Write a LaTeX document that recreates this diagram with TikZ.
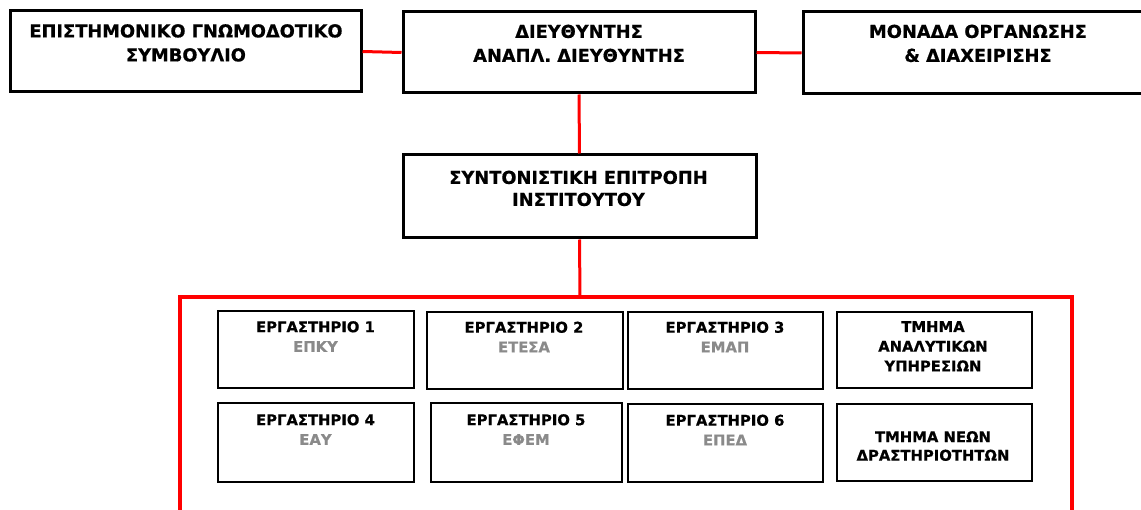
\documentclass[tikz,border=0pt]{standalone}
\usepackage{fontspec}
\setmainfont{DejaVu Sans}[BoldFeatures={FakeBold=0.6}]
\definecolor{labgrey}{RGB}{138,138,138}
\definecolor{linkred}{RGB}{255,0,0}
\begin{document}
\begin{tikzpicture}[x=1pt,y=-1pt,
  topbox/.style={draw=black,line width=3pt,inner sep=0pt,fill=white},
  labbox/.style={draw=black,line width=1.8pt,inner sep=0pt,fill=white,minimum width=195pt},
  toptext/.style={anchor=north,inner sep=0pt,align=center,font=\fontsize{17.8}{24}\selectfont\bfseries},
  labtext/.style={anchor=north,inner sep=0pt,align=center,font=\fontsize{14.8}{19.7}\selectfont\bfseries},
  link/.style={draw=linkred,line width=3pt},
  frame/.style={draw=linkred,line width=4pt}]
\useasboundingbox (0,0) rectangle (1141,510);
\clip (0,0) rectangle (1141,510);
\fill[white] (0,0) rectangle (1141,510);

% top row
\node[topbox,minimum width=351pt,minimum height=81pt] (A) at (185.5,51.5) {};
\node[topbox,minimum width=352pt,minimum height=81pt] (B) at (579,52.5) {};
\node[topbox,minimum width=350pt,minimum height=82pt] (C) at (978,53) {};
\node[topbox,minimum width=353pt,minimum height=83pt] (D) at (579.5,196.5) {};

\node[toptext] (Atext) at (186,24) {ΕΠΙΣΤΗΜΟΝΙΚΟ ΓΝΩΜΟΔΟΤΙΚΟ\\ΣΥΜΒΟΥΛΙΟ};
\node[toptext] (Btext) at (579,24.5) {ΔΙΕΥΘΥΝΤΗΣ\\ΑΝΑΠΛ. ΔΙΕΥΘΥΝΤΗΣ};
\node[toptext] (Ctext) at (978,24.5) {ΜΟΝΑΔΑ ΟΡΓΑΝΩΣΗΣ\\\& ΔΙΑΧΕΙΡΙΣΗΣ};
\node[toptext,font=\fontsize{17.8}{22}\selectfont\bfseries] (Dtext) at (578.5,170.5) {ΣΥΝΤΟΝΙΣΤΙΚΗ ΕΠΙΤΡΟΠΗ\\ΙΝΣΤΙΤΟΥΤΟΥ};

% connectors
\draw[link] (A.east) -- (B.west);
\draw[link] (B.east) -- (C.west);
\draw[link] (B.south) -- (D.north);
\coordinate (ftop) at (580,297);
\coordinate (ftl) at (180,297);
\coordinate (ftr) at (1072,297);
\coordinate (fbl) at (180,520);
\coordinate (fbr) at (1072,520);
\draw[link] (D.south) -- (ftop);
\draw[frame] (fbl) -- (ftl) -- (ftr) -- (fbr);

% inner boxes
\node[labbox,minimum width=196pt,minimum height=77pt] (E1) at (316,349.5) {};
\node[labbox,minimum width=196pt,minimum height=77pt] (E2) at (525,350.5) {};
\node[labbox,minimum width=195pt,minimum height=77pt] (E3) at (725.5,350.5) {};
\node[labbox,minimum width=195pt,minimum height=76pt] (T1) at (934.5,350) {};
\node[labbox,minimum width=196pt,minimum height=79pt] (E4) at (316,442.5) {};
\node[labbox,minimum width=191pt,minimum height=79pt] (E5) at (526.5,442.5) {};
\node[labbox,minimum width=195pt,minimum height=78pt] (E6) at (725.5,443) {};
\node[labbox,minimum width=195pt,minimum height=77pt] (T2) at (934.5,442.5) {};

\node[labtext] (E1text) at (315.5,321) {ΕΡΓΑΣΤΗΡΙΟ 1\\\textcolor{labgrey}{ΕΠΚΥ}};
\node[labtext] (E2text) at (524,321.5) {ΕΡΓΑΣΤΗΡΙΟ 2\\\textcolor{labgrey}{ΕΤΕΣΑ}};
\node[labtext] (E3text) at (725,321.5) {ΕΡΓΑΣΤΗΡΙΟ 3\\\textcolor{labgrey}{ΕΜΑΠ}};
\node[labtext] (T1text) at (933,321) {ΤΜΗΜΑ\\ΑΝΑΛΥΤΙΚΩΝ\\ΥΠΗΡΕΣΙΩΝ};
\node[labtext] (E4text) at (315.5,414) {ΕΡΓΑΣΤΗΡΙΟ 4\\\textcolor{labgrey}{ΕΑΥ}};
\node[labtext] (E5text) at (526,414) {ΕΡΓΑΣΤΗΡΙΟ 5\\\textcolor{labgrey}{ΕΦΕΜ}};
\node[labtext] (E6text) at (725,414.5) {ΕΡΓΑΣΤΗΡΙΟ 6\\\textcolor{labgrey}{ΕΠΕΔ}};
\node[labtext,font=\fontsize{14.8}{18.5}\selectfont\bfseries] (T2text) at (933,431) {ΤΜΗΜΑ ΝΕΩΝ\\ΔΡΑΣΤΗΡΙΟΤΗΤΩΝ};
\end{tikzpicture}
\end{document}
